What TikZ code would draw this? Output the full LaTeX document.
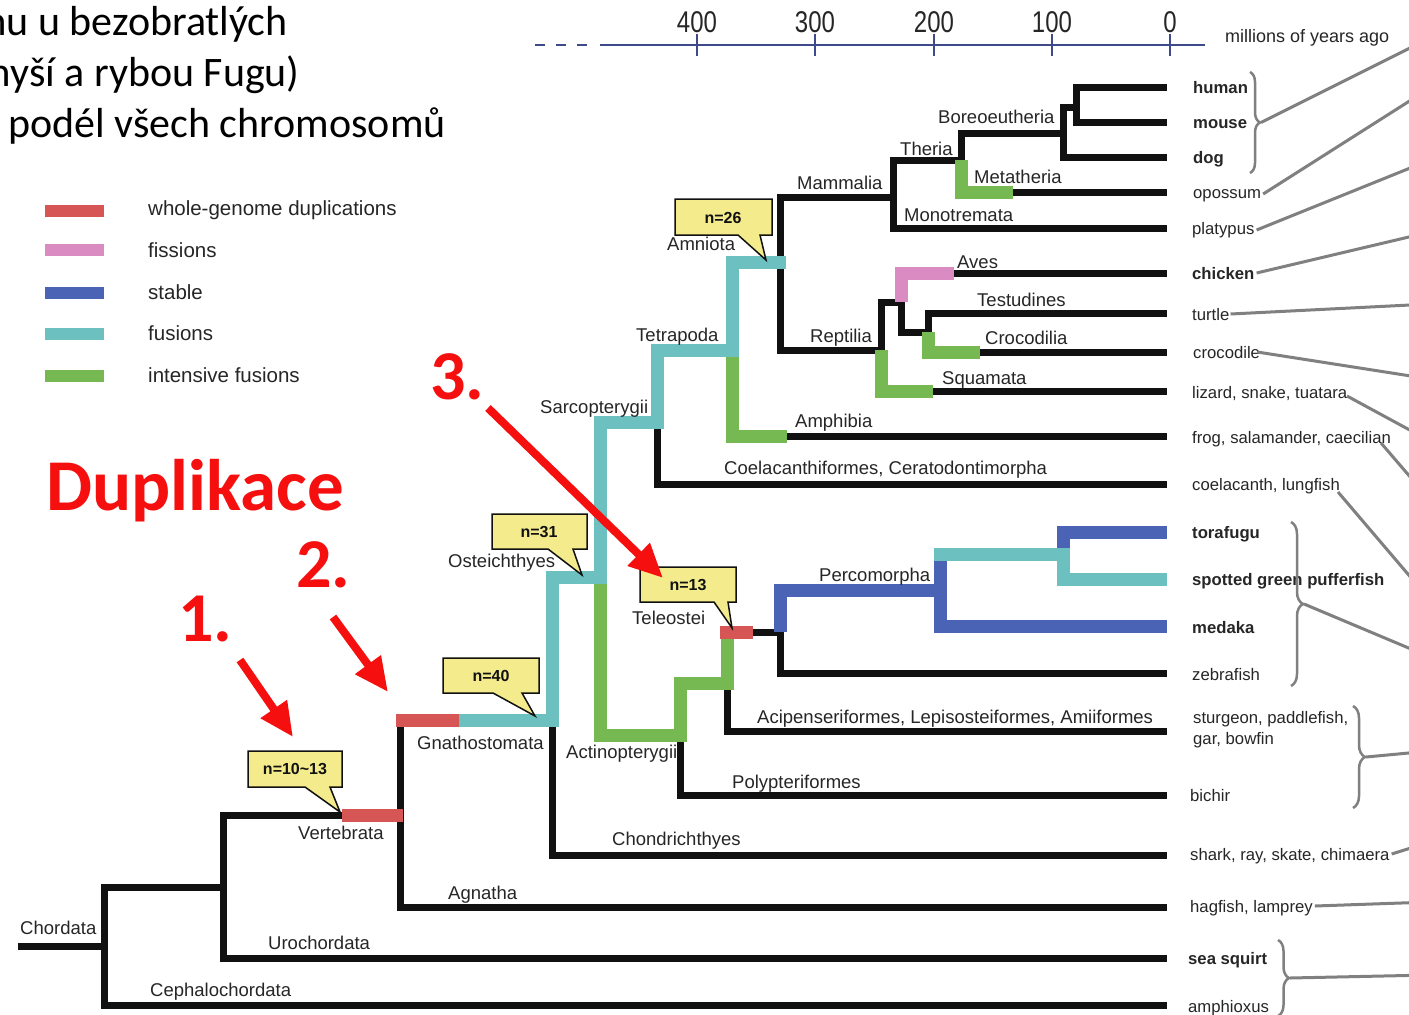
\documentclass[tikz,border=0pt]{standalone}
\usepackage{fontspec}
\setmainfont{Liberation Sans}
\newfontfamily\calibri{Carlito}
\usetikzlibrary{arrows.meta,decorations.pathreplacing}
\definecolor{treeblack}{HTML}{111111}
\definecolor{wgdred}{HTML}{D65656}
\definecolor{fispink}{HTML}{D98BC2}
\definecolor{stabblue}{HTML}{4A63B5}
\definecolor{fusteal}{HTML}{6CC0C0}
\definecolor{ifusgreen}{HTML}{76B852}
\definecolor{callyellow}{HTML}{F4EC8C}
\definecolor{axisnavy}{HTML}{3F4A8A}
\definecolor{linkgray}{HTML}{808080}
\definecolor{labelgray}{HTML}{262626}
\definecolor{arrowred}{HTML}{F50F0F}
\begin{document}
\begin{tikzpicture}[x=1pt,y=-1pt,
  blk/.style={draw=treeblack,line width=7pt,line join=miter,line cap=butt},
  wgd/.style={draw=wgdred,line width=13pt,line join=miter},
  fis/.style={draw=fispink,line width=13pt,line join=miter},
  stab/.style={draw=stabblue,line width=13pt,line join=miter},
  fus/.style={draw=fusteal,line width=13pt,line join=miter},
  ifus/.style={draw=ifusgreen,line width=13pt,line join=miter},
  clade/.style={font=\fontsize{18.5}{20}\selectfont,text=labelgray,anchor=base west,inner sep=0pt},
  tiplab/.style={font=\fontsize{16.7}{19}\selectfont,text=labelgray,anchor=base west,inner sep=0pt,align=left},
  tipbold/.style={tiplab,font=\fontsize{16.7}{19}\selectfont\bfseries},
  leglab/.style={font=\fontsize{20.5}{22}\selectfont,text=labelgray,anchor=west,inner sep=0pt},
  callout/.style={fill=callyellow,draw=treeblack,line width=1.5pt,line join=miter},
  calltext/.style={font=\fontsize{16}{18}\selectfont\bfseries,text=treeblack,inner sep=0pt},
  link/.style={draw=linkgray,line width=3pt},
  brc/.style={draw=linkgray,line width=2.5pt,decorate},
  redarrow/.style={draw=arrowred,line width=8pt,-{Triangle[length=34pt,width=30pt]}},
  rednum/.style={font=\calibri\bfseries\fontsize{70}{80}\selectfont,text=arrowred,anchor=base west,inner sep=0pt},
  ticklab/.style={font=\fontsize{30}{32}\selectfont,text=labelgray,anchor=base,inner sep=0pt}
]
\useasboundingbox (0,0) rectangle (1409,1015);
\fill[white] (0,0) rectangle (1409,1015);
\begin{scope}
\clip (0,0) rectangle (1409,1015);

% ---------- heading text (cut at left edge) ----------
\node[font=\calibri\fontsize{42}{50}\selectfont,anchor=base east,inner sep=0pt] (h1) at (288,35) {mu u bezobratlých};
\node[font=\calibri\fontsize{42}{50}\selectfont,anchor=base east,inner sep=0pt] (h2) at (300,86) {myší a rybou Fugu)};
\node[font=\calibri\fontsize{42}{50}\selectfont,anchor=base west,inner sep=0pt] (h3) at (8,137) {podél všech chromosomů};

% ---------- legend ----------
\draw[wgd,line width=12pt] (45,211) -- (104,211);
\draw[fis,line width=12pt] (45,250) -- (104,250);
\draw[stab,line width=12pt] (45,293) -- (104,293);
\draw[fus,line width=12pt] (45,334) -- (104,334);
\draw[ifus,line width=12pt] (45,376) -- (104,376);
\node[leglab] (lg1) at (148,210) {whole-genome duplications};
\node[leglab] (lg2) at (148,250) {fissions};
\node[leglab] (lg3) at (148,292) {stable};
\node[leglab] (lg4) at (148,333) {fusions};
\node[leglab] (lg5) at (148,375) {intensive fusions};

% ---------- time axis ----------
\draw[axisnavy,line width=2.5pt,dash pattern=on 10pt off 11pt] (535,45) -- (592,45);
\draw[axisnavy,line width=2.5pt] (600,45) -- (1205,45);
\foreach \xx/\lab in {697/400,815/300,934/200,1052/100,1170/0}{
  \draw[axisnavy,line width=2.5pt] (\xx,34) -- (\xx,56);
  \node[ticklab] at (\xx,32) {\scalebox{0.8}[1]{\lab}};
}
\node[font=\fontsize{18}{20}\selectfont,text=labelgray,anchor=base west,inner sep=0pt] (myaLab) at (1225,42) {millions of years ago};

% ---------- tips ----------
\coordinate (t-human) at (1167,87);
\coordinate (t-mouse) at (1167,122);
\coordinate (t-dog) at (1167,157);
\coordinate (t-opos) at (1167,192);
\coordinate (t-platy) at (1167,228);
\coordinate (t-chick) at (1167,273);
\coordinate (t-turtle) at (1167,313);
\coordinate (t-croc) at (1167,352);
\coordinate (t-liz) at (1167,391);
\coordinate (t-frog) at (1167,436);
\coordinate (t-coel) at (1167,484);
\coordinate (t-tora) at (1167,532);
\coordinate (t-spot) at (1167,579);
\coordinate (t-medaka) at (1167,626);
\coordinate (t-zebra) at (1167,673);
\coordinate (t-stur) at (1167,731);
\coordinate (t-bichir) at (1167,795);
\coordinate (t-shark) at (1167,855);
\coordinate (t-hag) at (1167,907);
\coordinate (t-seasq) at (1167,958);
\coordinate (t-amph) at (1167,1005);

% ---------- black tree ----------
\draw[blk] (18,946) -- (104,946);
\draw[blk] (223,887) -- (104,887) |- (t-amph);
\draw[blk] (342,815) -- (223,815) |- (t-seasq);
\draw[blk] (400,720) |- (t-hag);
\draw[blk] (552,720) |- (t-shark);
\draw[blk] (657,422) |- (t-coel);
\draw[blk] (680,735) |- (t-bichir);
\draw[blk] (727,683) |- (t-stur);
\draw[blk] (753,632) -- (780,632) |- (t-zebra);
\draw[blk] (893,197) -| (780,350) -- (881,350) -- (881,302) -- (901,302) -- (901,332) -- (928,332) |- (t-turtle);
\draw[blk] (1063,133) -- (961,133) -- (961,160) -- (893,160) |- (t-platy);
\draw[blk] (1076,107) -- (1063,107) |- (t-dog);
\draw[blk] (t-human) -| (1076,122) -- (t-mouse);
\draw[blk] (1013,192) -- (t-opos);
\draw[blk] (954,273) -- (t-chick);
\draw[blk] (980,352) -- (t-croc);
\draw[blk] (933,391) -- (t-liz);
\draw[blk] (787,436) -- (t-frog);

% ---------- coloured segments ----------
\draw[ifus] (961,160) -- (961,192) -- (1013,192);
\draw[fis] (901,302) -- (901,273) -- (954,273);
\draw[ifus] (928,332) -- (928,352) -- (980,352);
\draw[ifus] (881,350) -- (881,391) -- (933,391);
\draw[ifus] (732,350) -- (732,436) -- (787,436);
\draw[ifus] (600,577) -- (600,735) -- (680,735) -- (680,683) -- (727,683) -- (727,632);
\draw[fus] (459,720) -- (552,720) -- (552,577) -- (600,577) -- (600,422) -- (657,422) -- (657,350) -- (732,350) -- (732,262) -- (786,262);
\draw[wgd] (396,720) -- (459,720);
\draw[wgd] (342,815) -- (403,815);
\draw[wgd] (720,632) -- (753,632);
\draw[stab] (780,632) -- (780,590) -- (940,590);
\draw[stab] (940,554) -- (940,626) -- (t-medaka);
\draw[stab] (1063,554) -- (1063,532) -- (t-tora);
\draw[fus] (933.5,554) -- (1063,554) -- (1063,579) -- (t-spot);

% ---------- clade labels ----------
\node[clade] (l-chord) at (20,934) {Chordata};
\node[clade] (l-ceph) at (150,996) {Cephalochordata};
\node[clade] (l-uro) at (268,949) {Urochordata};
\node[clade] (l-vert) at (298,839) {Vertebrata};
\node[clade] (l-agn) at (448,899) {Agnatha};
\node[clade] (l-gna) at (417,749) {Gnathostomata};
\node[clade] (l-chon) at (612,845) {Chondrichthyes};
\node[clade] (l-oste) at (448,567) {Osteichthyes};
\node[clade] (l-acti) at (566,758) {Actinopterygii};
\node[clade] (l-poly) at (732,788) {Polypteriformes};
\node[clade] (l-acip) at (757,723) {Acipenseriformes, Lepisosteiformes, Amiiformes};
\node[clade] (l-tele) at (632,624) {Teleostei};
\node[clade] (l-perc) at (819,581) {Percomorpha};
\node[clade] (l-sarc) at (540,413) {Sarcopterygii};
\node[clade] (l-coel) at (724,474) {Coelacanthiformes, Ceratodontimorpha};
\node[clade] (l-tetr) at (636,341) {Tetrapoda};
\node[clade] (l-amphib) at (795,427) {Amphibia};
\node[clade] (l-amni) at (667,250) {Amniota};
\node[clade] (l-rept) at (810,342) {Reptilia};
\node[clade] (l-squa) at (942,384) {Squamata};
\node[clade] (l-croc) at (985,344) {Crocodilia};
\node[clade] (l-test) at (977,306) {Testudines};
\node[clade] (l-aves) at (957,268) {Aves};
\node[clade] (l-mamm) at (797,189) {Mammalia};
\node[clade] (l-mono) at (904,221) {Monotremata};
\node[clade] (l-ther) at (900,155) {Theria};
\node[clade] (l-meta) at (974,183) {Metatheria};
\node[clade] (l-bore) at (938,123) {Boreoeutheria};

% ---------- tip labels ----------
\node[tipbold] (n-human) at (1193,93) {human};
\node[tipbold] (n-mouse) at (1193,128) {mouse};
\node[tipbold] (n-dog) at (1193,163) {dog};
\node[tiplab] (n-opos) at (1193,198) {opossum};
\node[tiplab] (n-platy) at (1192,234) {platypus};
\node[tipbold] (n-chick) at (1192,279) {chicken};
\node[tiplab] (n-turtle) at (1192,320) {turtle};
\node[tiplab] (n-croc) at (1193,358) {crocodile};
\node[tiplab] (n-liz) at (1192,398) {lizard, snake, tuatara};
\node[tiplab] (n-frog) at (1192,443) {frog, salamander, caecilian};
\node[tiplab] (n-coel) at (1192,490) {coelacanth, lungfish};
\node[tipbold] (n-tora) at (1192,538) {torafugu};
\node[tipbold] (n-spot) at (1192,585) {spotted green pufferfish};
\node[tipbold] (n-medaka) at (1192,633) {medaka};
\node[tiplab] (n-zebra) at (1192,680) {zebrafish};
\node[tiplab] (n-stur) at (1193,723) {sturgeon, paddlefish,};
\node[tiplab] (n-gar) at (1193,744) {gar, bowfin};
\node[tiplab] (n-bichir) at (1190,801) {bichir};
\node[tiplab] (n-shark) at (1190,860) {shark, ray, skate, chimaera};
\node[tiplab] (n-hag) at (1190,912) {hagfish, lamprey};
\node[tipbold] (n-seasq) at (1188,964) {sea squirt};
\node[tiplab] (n-amph) at (1188,1012) {amphioxus};

% ---------- braces and grey links ----------
\draw[brc,decoration={brace,amplitude=10pt}] (1250,72) -- (1250,173);
\draw[brc,decoration={brace,amplitude=12pt}] (1291,522) -- (1291,686);
\draw[brc,decoration={brace,amplitude=12pt}] (1353,706) -- (1353,808);
\draw[brc,decoration={brace,amplitude=11pt}] (1278,940) -- (1278,1016);
\coordinate (b-mam) at (1261,122.5);
\coordinate (b-fish) at (1304,604);
\coordinate (b-stur) at (1366,757);
\coordinate (b-sq) at (1290,978);
\draw[link] (b-mam) -- (1430,38);
\draw[link] (n-opos.base east) ++(2,-4) -- (1430,88);
\draw[link] (n-platy.base east) ++(2,-4) -- (1430,160);
\draw[link] (n-chick.base east) ++(2,-6) -- (1430,232);
\draw[link] (n-turtle.base east) ++(1,-6) -- (1430,304);
\draw[link] (n-croc.base east) ++(-3,-6) -- (1430,379);
\draw[link] (1347,396) -- (1430,441);
\draw[link] (1381,443) -- (1430,500);
\draw[link] (1338,492) -- (1430,600);
\draw[link] (b-fish) -- (1430,657);
\draw[link] (b-stur) -- (1430,751);
\draw[link] (n-shark.base east) ++(2,-6) -- (1430,842);
\draw[link] (n-hag.base east) ++(2,-6) -- (1430,902);
\draw[link] (b-sq) -- (1430,975);

% ---------- callouts ----------
\draw[callout] (248,751) -- (342,751) -- (342,787) -- (330,787) -- (340,812) -- (305,787) -- (248,787) -- cycle;
\node[calltext] (c1) at (295,769) {n=10\textasciitilde 13};
\draw[callout] (443,658) -- (539,658) -- (539,693) -- (522,693) -- (535,716) -- (493,693) -- (443,693) -- cycle;
\node[calltext] (c2) at (491,676) {n=40};
\draw[callout] (492,514) -- (587,514) -- (587,549) -- (573,549) -- (582,575) -- (548,549) -- (492,549) -- cycle;
\node[calltext] (c3) at (539,532) {n=31};
\draw[callout] (640,567) -- (736,567) -- (736,602) -- (728,602) -- (732,628) -- (714,602) -- (640,602) -- cycle;
\node[calltext] (c4) at (688,585) {n=13};
\draw[callout] (675,199) -- (772,199) -- (772,235) -- (760,235) -- (766,260) -- (738,235) -- (675,235) -- cycle;
\node[calltext] (c5) at (723,218) {n=26};

% ---------- red annotations ----------
\node[font=\calibri\bfseries\fontsize{73}{80}\selectfont,text=arrowred,anchor=base west,inner sep=0pt] (dup) at (46,510) {Duplikace};
\node[rednum] (r1) at (178,641) {1.};
\node[rednum] (r2) at (296,587) {2.};
\node[rednum] (r3) at (430,399) {3.};
\coordinate (a1s) at (240,660);
\coordinate (a1e) at (293,737);
\coordinate (a2s) at (333,617);
\coordinate (a2e) at (388,692);
\coordinate (a3s) at (488,408);
\coordinate (a3e) at (663,578);
\draw[redarrow] (a1s) -- (a1e);
\draw[redarrow] (a2s) -- (a2e);
\draw[redarrow] (a3s) -- (a3e);
\end{scope}
\end{tikzpicture}
\end{document}
